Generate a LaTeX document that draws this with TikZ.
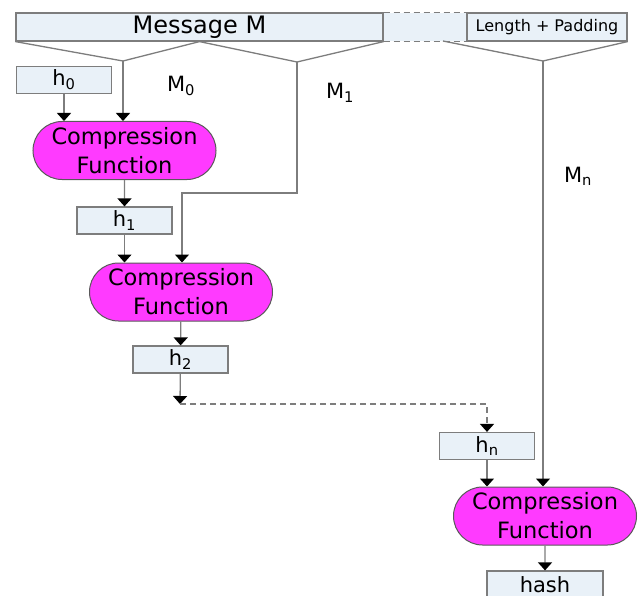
\documentclass[tikz,border=0pt]{standalone}
\usepackage{fontspec}
\setmainfont{DejaVu Sans}
\usetikzlibrary{arrows.meta,shapes.misc,positioning}

\definecolor{boxfill}{RGB}{233,241,248}
\definecolor{cfmagenta}{RGB}{255,58,255}
\definecolor{wire}{RGB}{125,125,125}

\tikzset{
  hbox/.style={draw=wire, line width=1.2pt, fill=boxfill, minimum width=95pt, minimum height=27pt,
    inner sep=0pt, font=\fontsize{21}{21}\selectfont},
  cfunc/.style={rounded rectangle, draw=black!65, line width=1pt, fill=cfmagenta, minimum width=183pt,
    minimum height=58pt, inner sep=0pt, align=center, font=\fontsize{22.5}{29}\selectfont},
  feed/.style={draw=wire, line width=1.3pt, -{Triangle[width=14pt,length=8pt,color=black]}},
  brace/.style={draw=wire, line width=1.3pt},
  gapline/.style={dash pattern=on 6pt off 4pt},
  sublabel/.style={font=\fontsize{21}{21}\selectfont},
}

\begin{document}
\begin{tikzpicture}[x=1pt,y=-1pt]
  \useasboundingbox (0,0) rectangle (639,596);
  \clip (0,0) rectangle (639,596);

  % the padded message
  \fill[boxfill] (383,13) rectangle (467,41);
  \node[hbox, minimum width=367pt, minimum height=28pt, font=\fontsize{24}{24}\selectfont]
    (msg) at (199.5,27) {Message M};
  \node[hbox, minimum width=160pt, minimum height=28pt, font=\fontsize{16}{16}\selectfont]
    (pad) at (547,27) {Length + Padding};
  \draw[wire, gapline, line width=1.2pt] (msg.north east) -- (pad.north west)
                                         (msg.south east) -- (pad.south west);

  % blocks split off the message
  \coordinate (v0) at (123,61);
  \coordinate (v1) at (297,62);
  \coordinate (vn) at (543,61);
  \coordinate (padstart) at (443,41);
  \draw[brace] (msg.south west) -- (v0) -- (msg.south) -- (v1) -- (msg.south east);
  \draw[brace] (padstart) -- (vn) -- (pad.south east);

  \node[sublabel] (m0) at (181,86) {M\textsubscript{0}};
  \node[sublabel] (m1) at (340,93) {M\textsubscript{1}};
  \node[sublabel] (mn) at (578,176) {M\textsubscript{n}};

  % chaining values and compression rounds
  \node[hbox] (h0) at (64,80) {h\textsubscript{0}};
  \node[cfunc] (cf1) at (124.5,150.5) {Compression\\Function};
  \node[hbox] (h1) at (124.5,220.5) {h\textsubscript{1}};
  \node[cfunc] (cf2) at (181,292) {Compression\\Function};
  \node[hbox] (h2) at (180.5,359.5) {h\textsubscript{2}};
  \node[hbox] (hn) at (487,446) {h\textsubscript{n}};
  \node[cfunc] (cf3) at (545,516) {Compression\\Function};
  \node[hbox, minimum width=116pt] (hash) at (545,584.5) {hash};

  \coordinate (m1in) at (182,193);
  \coordinate (h2out) at (180,404);

  \draw[feed] (h0.south) -- (h0.south |- cf1.north);
  \draw[feed] (v0) -- (v0 |- cf1.north);
  \draw[feed] (cf1) -- (h1);
  \draw[feed] (h1.south) -- (h1.south |- cf2.north);
  \draw[feed] (v1) |- (m1in) -- (m1in |- cf2.north);
  \draw[feed] (cf2) -- (h2);
  \draw[feed] (h2) -- (h2out);
  \draw[feed, gapline] (h2out) -| (hn.north);
  \draw[feed] (hn.south) -- (hn.south |- cf3.north);
  \draw[feed] (vn) -- (vn |- cf3.north);
  \draw[feed] (cf3) -- (hash);
\end{tikzpicture}
\end{document}
